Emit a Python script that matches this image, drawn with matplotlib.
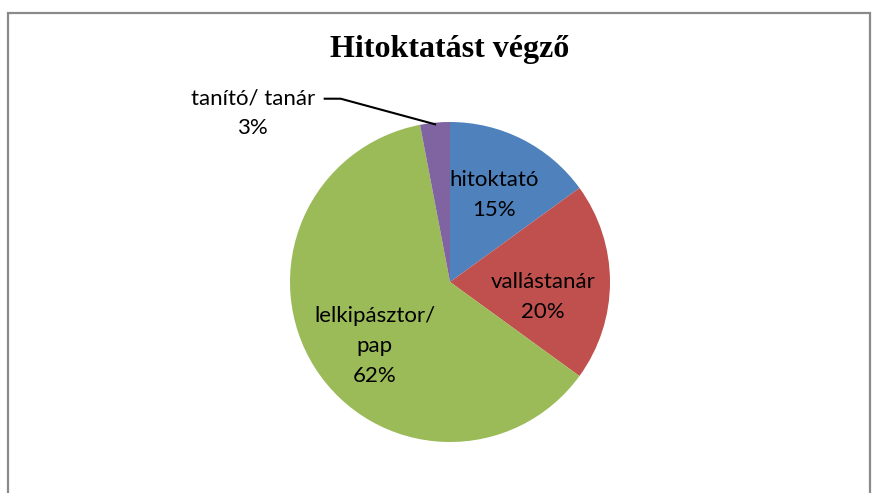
import numpy as np
import matplotlib
matplotlib.use("Agg")
import matplotlib.pyplot as plt
from matplotlib.patches import Rectangle

# data
labels = ["hitoktató", "vallástanár", "lelkipásztor/\npap", "tanító/ tanár"]
values = [15, 20, 62, 3]
colors = ["#4F81BD", "#C0504D", "#9BBB59", "#8064A2"]
title = "Hitoktatást végző"

W, H = 880, 493
fig = plt.figure(figsize=(W / 100, H / 100), dpi=100)

# frame around the chart (open at the bottom, like the cropped original)
fig.patches.append(Rectangle((8 / W, -0.05), 862 / W, (H - 13) / H + 0.05,
                             transform=fig.transFigure, fill=False,
                             edgecolor="#8a8a8a", linewidth=1.6))

R = 158.0          # pie radius in px
cx, cy = 450, 211  # pie centre in px from bottom-left
half = 200
ax = fig.add_axes([(cx - half) / W, (cy - half) / H, 2 * half / W, 2 * half / H])
lim = half / R
ax.set_xlim(-lim, lim)
ax.set_ylim(-lim, lim)
ax.set_aspect("equal")
ax.axis("off")

wedges, _ = ax.pie(values, colors=colors, startangle=90, counterclock=False,
                   radius=1.0, wedgeprops=dict(linewidth=0))

font = dict(family=["Lato", "DejaVu Sans"], fontsize=16, color="black",
            linespacing=1.62, ha="center", va="center")

# inside labels: radius / small angle tweak per slice
inside = {0: (0.61, 0), 1: (0.59, -9), 2: (0.62, 8)}
for i, w in enumerate(wedges):
    mid = np.deg2rad((w.theta1 + w.theta2) / 2)
    txt = f"{labels[i]}\n{values[i]}%"
    if i in inside:
        r, da = inside[i]
        a = mid + np.deg2rad(da)
        ax.text(r * np.cos(a), r * np.sin(a), txt, **font)
    else:
        # outside label with a leader line
        ex, ey = 0.99 * np.cos(mid), 0.99 * np.sin(mid)
        tx, ty = ex - 1.14, ey + 0.07
        ax.text(tx, ty, txt, **font)
        kx = ex - 0.59
        ax.plot([kx - 0.1, kx, ex], [ey + 0.16, ey + 0.16, ey],
                color="black", linewidth=1.5, clip_on=False)

fig.text(450 / W, 1 - 50 / H, title, ha="center", va="center",
         fontsize=23, fontweight="bold", family="Liberation Serif")

fig.savefig("out.png", dpi=100)
